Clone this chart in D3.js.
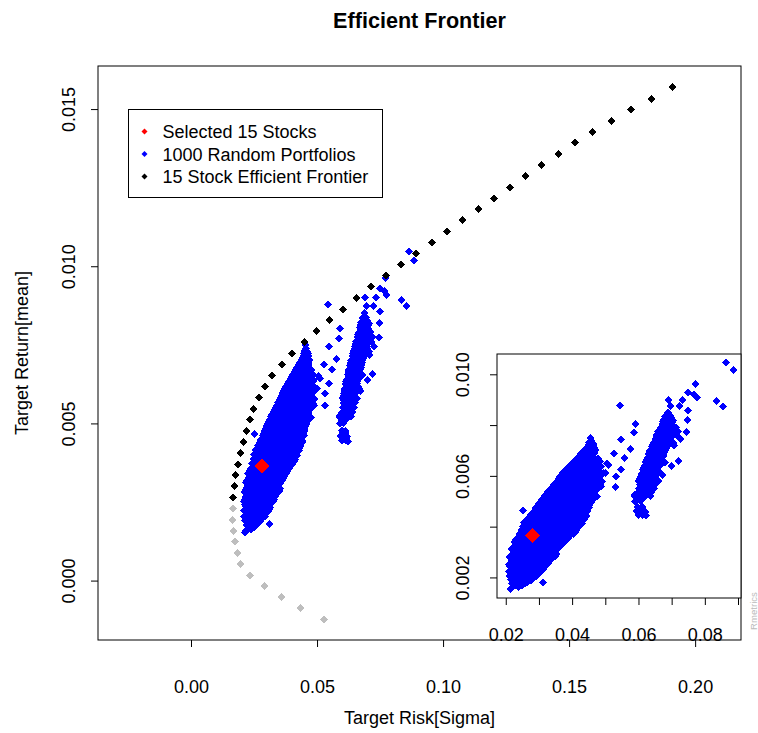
<!DOCTYPE html>
<html lang="en">
<head>
<meta charset="utf-8">
<title>Efficient Frontier</title>
<script src="https://cdn.jsdelivr.net/npm/d3@7"></script>
<style>
  body { margin: 0; background: #fff; }
  text { font-family: "Liberation Sans", Arial, Helvetica, sans-serif; }
</style>
</head>
<body>
<script>
// efficient part of the frontier, [sigma, mean]
var frontier = [
  [0.01678,0.00264],[0.01725,0.00300],[0.01773,0.00335],[0.01864,0.00370],[0.01956,0.00406],
  [0.02075,0.00441],[0.02194,0.00476],[0.02340,0.00511],[0.02471,0.00546],[0.02685,0.00582],
  [0.02923,0.00617],[0.03225,0.00652],[0.03598,0.00687],[0.04018,0.00722],[0.04494,0.00759],
  [0.04986,0.00794],[0.05502,0.00829],[0.06029,0.00863],[0.06573,0.00899],[0.07152,0.00935],
  [0.07735,0.00970],[0.08330,0.01005],[0.08937,0.01040],[0.09548,0.01076],[0.10155,0.01110],
  [0.10777,0.01146],[0.11412,0.01181],[0.12031,0.01216],[0.12653,0.01251],[0.13288,0.01287],
  [0.13923,0.01322],[0.14569,0.01357],[0.15244,0.01393],[0.15934,0.01428],[0.16688,0.01463],
  [0.17453,0.01498],[0.18274,0.01533],[0.19107,0.01569]
];
// lower (inefficient) part, drawn grey
var lowerFrontier = [
  [0.01654,0.00229],[0.01654,0.00193],[0.01694,0.00158],[0.01745,0.00123],[0.01837,0.00088],
  [0.01971,0.00052],[0.02340,0.00017],[0.02923,-0.00018],[0.03582,-0.00053],[0.04351,-0.00088],
  [0.05276,-0.00123]
];
// the selected 15 stock portfolio
var selected = [[0.0281, 0.00364]];
// random portfolios (the dense parts approximated)
var randomPortfolios = [
  [.0216,.00158],[.0238,.00163],
  [.0220,.00176],[.0240,.00173],[.0259,.00178],
  [.0215,.00192],[.0236,.00188],[.0255,.00193],[.0276,.00189],
  [.0211,.00204],[.0231,.00207],[.0252,.00203],[.0272,.00206],[.0292,.00204],
  [.0210,.00222],[.0228,.00219],[.0249,.00221],[.0268,.00218],[.0287,.00222],[.0305,.00220],
  [.0219,.00236],[.0240,.00233],[.0260,.00237],[.0279,.00234],[.0298,.00236],[.0314,.00233],
  [.0209,.00251],[.0229,.00248],[.0250,.00252],[.0270,.00249],[.0290,.00251],[.0309,.00248],[.0324,.00252],
  [.0218,.00266],[.0238,.00263],[.0259,.00267],[.0280,.00264],[.0300,.00266],[.0320,.00263],[.0333,.00267],
  [.0212,.00281],[.0232,.00278],[.0251,.00282],[.0271,.00279],[.0291,.00281],[.0311,.00278],[.0330,.00282],[.0343,.00279],
  [.0222,.00296],[.0242,.00293],[.0262,.00297],[.0282,.00294],[.0302,.00296],[.0322,.00293],[.0341,.00297],[.0353,.00294],
  [.0218,.00311],[.0236,.00308],[.0256,.00312],[.0276,.00309],[.0296,.00311],[.0316,.00308],[.0336,.00312],[.0355,.00309],
  [.0227,.00326],[.0247,.00323],[.0267,.00327],[.0287,.00324],[.0307,.00326],[.0327,.00323],[.0347,.00327],[.0366,.00324],
  [.0226,.00341],[.0244,.00338],[.0264,.00342],[.0284,.00339],[.0304,.00341],[.0324,.00338],[.0344,.00342],[.0363,.00339],[.0378,.00341],
  [.0236,.00356],[.0255,.00353],[.0275,.00357],[.0295,.00354],[.0315,.00356],[.0335,.00353],[.0355,.00357],[.0374,.00354],[.0390,.00356],
  [.0242,.00371],[.0265,.00368],[.0285,.00372],[.0305,.00369],[.0325,.00371],[.0345,.00368],[.0365,.00372],[.0385,.00369],[.0403,.00371],
  [.0248,.00386],[.0274,.00383],[.0294,.00387],[.0314,.00384],[.0334,.00386],[.0354,.00383],[.0374,.00387],[.0394,.00384],[.0412,.00386],
  [.0251,.00401],[.0266,.00398],[.0286,.00402],[.0306,.00399],[.0326,.00401],[.0346,.00398],[.0366,.00402],[.0386,.00399],[.0404,.00401],[.0420,.00398],
  [.0256,.00416],[.0276,.00413],[.0296,.00417],[.0316,.00414],[.0336,.00416],[.0356,.00413],[.0376,.00417],[.0396,.00414],[.0415,.00416],[.0429,.00413],
  [.0266,.00431],[.0286,.00428],[.0306,.00432],[.0326,.00429],[.0346,.00431],[.0366,.00428],[.0386,.00432],[.0406,.00429],[.0424,.00431],[.0436,.00428],
  [.0276,.00446],[.0296,.00443],[.0316,.00447],[.0336,.00444],[.0356,.00446],[.0376,.00443],[.0396,.00447],[.0416,.00444],[.0432,.00446],[.0443,.00443],
  [.0285,.00461],[.0305,.00458],[.0325,.00462],[.0345,.00459],[.0365,.00461],[.0385,.00458],[.0405,.00462],[.0425,.00459],[.0447,.00461],
  [.0292,.00476],[.0313,.00473],[.0333,.00477],[.0353,.00474],[.0373,.00476],[.0393,.00473],[.0413,.00477],[.0433,.00474],[.0451,.00476],
  [.0300,.00491],[.0321,.00488],[.0341,.00492],[.0361,.00489],[.0381,.00491],[.0401,.00488],[.0421,.00492],[.0441,.00489],[.0455,.00491],
  [.0309,.00506],[.0330,.00503],[.0350,.00507],[.0370,.00504],[.0390,.00506],[.0410,.00503],[.0430,.00507],[.0450,.00504],[.0461,.00506],
  [.0317,.00521],[.0338,.00518],[.0358,.00522],[.0378,.00519],[.0398,.00521],[.0418,.00518],[.0438,.00522],[.0456,.00519],[.0469,.00521],
  [.0326,.00536],[.0347,.00533],[.0367,.00537],[.0387,.00534],[.0407,.00536],[.0427,.00533],[.0447,.00537],[.0466,.00534],
  [.0337,.00551],[.0357,.00548],[.0377,.00552],[.0397,.00549],[.0417,.00551],[.0437,.00548],[.0457,.00552],[.0478,.00549],
  [.0346,.00566],[.0366,.00563],[.0386,.00567],[.0406,.00564],[.0426,.00566],[.0446,.00563],[.0466,.00567],[.0485,.00564],
  [.0356,.00581],[.0376,.00578],[.0396,.00582],[.0416,.00579],[.0436,.00581],[.0456,.00578],[.0476,.00582],[.0490,.00579],
  [.0363,.00596],[.0384,.00593],[.0404,.00597],[.0424,.00594],[.0444,.00596],[.0464,.00593],[.0484,.00597],
  [.0371,.00611],[.0392,.00608],[.0412,.00612],[.0432,.00609],[.0452,.00611],[.0472,.00608],[.0494,.00612],
  [.0382,.00626],[.0402,.00623],[.0422,.00627],[.0442,.00624],[.0462,.00626],[.0480,.00623],
  [.0394,.00641],[.0414,.00638],[.0434,.00642],[.0454,.00639],[.0474,.00641],[.0487,.00638],
  [.0405,.00656],[.0425,.00653],[.0445,.00657],[.0465,.00654],[.0484,.00656],
  [.0416,.00671],[.0436,.00668],[.0456,.00672],[.0478,.00669],
  [.0426,.00686],[.0446,.00683],[.0466,.00687],
  [.0438,.00701],[.0458,.00698],[.0470,.00702],
  [.0447,.00716],[.0466,.00713],
  [.0450,.00731],[.0462,.00728],
  [.0455,.00750],
  // more from the dense core, between the rows above
  [.0229,.00168],[.0249,.00168],
  [.0226,.00183],[.0246,.00183],[.0266,.00183],
  [.0221,.00198],[.0241,.00198],[.0262,.00198],[.0282,.00198],
  [.0220,.00213],[.0240,.00213],[.0260,.00213],[.0280,.00213],[.0297,.00213],
  [.0219,.00228],[.0238,.00228],[.0258,.00228],[.0278,.00228],[.0296,.00228],[.0310,.00228],
  [.0214,.00243],[.0234,.00243],[.0255,.00243],[.0275,.00243],[.0295,.00243],[.0315,.00243],
  [.0214,.00258],[.0234,.00258],[.0254,.00258],[.0274,.00258],[.0294,.00258],[.0314,.00258],[.0329,.00258],
  [.0222,.00273],[.0242,.00273],[.0262,.00273],[.0282,.00273],[.0302,.00273],[.0322,.00273],[.0338,.00273],
  [.0217,.00288],[.0237,.00288],[.0257,.00288],[.0277,.00288],[.0297,.00288],[.0317,.00288],[.0336,.00288],[.0349,.00288],
  [.0227,.00303],[.0247,.00303],[.0267,.00303],[.0287,.00303],[.0307,.00303],[.0327,.00303],[.0346,.00303],
  [.0222,.00318],[.0242,.00318],[.0262,.00318],[.0282,.00318],[.0302,.00318],[.0322,.00318],[.0342,.00318],[.0360,.00318],
  [.0236,.00333],[.0256,.00333],[.0276,.00333],[.0296,.00333],[.0316,.00333],[.0336,.00333],[.0356,.00333],[.0372,.00333],
  [.0231,.00348],[.0250,.00348],[.0270,.00348],[.0290,.00348],[.0310,.00348],[.0330,.00348],[.0350,.00348],[.0370,.00348],[.0384,.00348],
  [.0245,.00363],[.0265,.00363],[.0290,.00363],[.0310,.00363],[.0330,.00363],[.0350,.00363],[.0370,.00363],[.0390,.00363],
  [.0255,.00378],[.0275,.00378],[.0295,.00378],[.0315,.00378],[.0335,.00378],[.0355,.00378],[.0375,.00378],[.0395,.00378],[.0408,.00378],
  [.0258,.00393],[.0278,.00393],[.0298,.00393],[.0318,.00393],[.0338,.00393],[.0358,.00393],[.0378,.00393],[.0398,.00393],[.0415,.00393],
  [.0261,.00408],[.0281,.00408],[.0301,.00408],[.0321,.00408],[.0341,.00408],[.0361,.00408],[.0381,.00408],[.0401,.00408],[.0420,.00408],
  [.0271,.00423],[.0291,.00423],[.0311,.00423],[.0331,.00423],[.0351,.00423],[.0371,.00423],[.0391,.00423],[.0411,.00423],[.0430,.00423],
  [.0271,.00438],[.0291,.00438],[.0311,.00438],[.0331,.00438],[.0351,.00438],[.0371,.00438],[.0391,.00438],[.0411,.00438],[.0428,.00438],[.0440,.00438],
  [.0281,.00453],[.0301,.00453],[.0321,.00453],[.0341,.00453],[.0361,.00453],[.0381,.00453],[.0401,.00453],[.0421,.00453],[.0438,.00453],
  [.0290,.00468],[.0310,.00468],[.0330,.00468],[.0350,.00468],[.0370,.00468],[.0390,.00468],[.0410,.00468],[.0430,.00468],[.0443,.00468],
  [.0297,.00483],[.0317,.00483],[.0337,.00483],[.0357,.00483],[.0377,.00483],[.0397,.00483],[.0417,.00483],[.0437,.00483],[.0450,.00483],
  [.0305,.00498],[.0325,.00498],[.0345,.00498],[.0365,.00498],[.0385,.00498],[.0405,.00498],[.0425,.00498],[.0445,.00498],[.0458,.00498],
  [.0313,.00513],[.0334,.00513],[.0354,.00513],[.0374,.00513],[.0394,.00513],[.0414,.00513],[.0434,.00513],[.0454,.00513],[.0465,.00513],
  [.0322,.00528],[.0343,.00528],[.0363,.00528],[.0383,.00528],[.0403,.00528],[.0423,.00528],[.0443,.00528],[.0460,.00528],
  [.0332,.00543],[.0352,.00543],[.0372,.00543],[.0392,.00543],[.0412,.00543],[.0432,.00543],[.0452,.00543],[.0470,.00543],
  [.0341,.00558],[.0361,.00558],[.0381,.00558],[.0401,.00558],[.0421,.00558],[.0441,.00558],[.0461,.00558],[.0478,.00558],
  [.0351,.00573],[.0371,.00573],[.0391,.00573],[.0411,.00573],[.0431,.00573],[.0451,.00573],[.0471,.00573],
  [.0360,.00588],[.0380,.00588],[.0400,.00588],[.0420,.00588],[.0440,.00588],[.0460,.00588],[.0478,.00588],
  [.0367,.00603],[.0388,.00603],[.0408,.00603],[.0428,.00603],[.0448,.00603],[.0468,.00603],[.0488,.00603],
  [.0377,.00618],[.0397,.00618],[.0417,.00618],[.0437,.00618],[.0457,.00618],[.0476,.00618],
  [.0388,.00633],[.0408,.00633],[.0428,.00633],[.0448,.00633],[.0468,.00633],[.0483,.00633],
  [.0400,.00648],[.0420,.00648],[.0440,.00648],[.0460,.00648],[.0479,.00648],
  [.0411,.00663],[.0431,.00663],[.0451,.00663],[.0471,.00663],
  [.0421,.00678],[.0441,.00678],[.0461,.00678],
  [.0432,.00693],[.0452,.00693],[.0466,.00693],
  [.0442,.00708],[.0462,.00708],
  [.0449,.00722],[.0464,.00722],
  [.0457,.00738],
  // stragglers around the main cloud
  [.0252,.00465],[.0313,.00180],[.0214,.00154],[.0349,.00283],[.0328,.00263],
  [.0505,.00650],[.0500,.00611],[.0488,.00558],[.0476,.00519],[.0510,.00643],
  // second cloud
  [.0600,.00445],[.0612,.00447],[.0622,.00443],
  [.0594,.00460],[.0607,.00462],[.0620,.00458],
  [.0598,.00478],[.0612,.00476],
  [.0590,.00500],[.0606,.00502],
  [.0590,.00520],[.0605,.00522],[.0620,.00518],[.0635,.00521],
  [.0598,.00535],[.0613,.00537],[.0628,.00533],[.0640,.00536],
  [.0602,.00550],[.0617,.00552],[.0632,.00548],[.0647,.00551],
  [.0605,.00565],[.0620,.00567],[.0635,.00563],[.0650,.00566],
  [.0601,.00580],[.0616,.00582],[.0631,.00578],[.0646,.00581],[.0660,.00579],
  [.0606,.00595],[.0621,.00597],[.0636,.00593],[.0651,.00596],
  [.0610,.00610],[.0625,.00612],[.0640,.00608],[.0655,.00611],[.0668,.00609],
  [.0613,.00625],[.0628,.00627],[.0643,.00623],[.0658,.00626],
  [.0618,.00640],[.0633,.00642],[.0648,.00638],[.0663,.00641],
  [.0622,.00655],[.0637,.00657],[.0652,.00653],[.0667,.00656],[.0680,.00654],
  [.0626,.00670],[.0641,.00672],[.0656,.00668],[.0671,.00671],
  [.0630,.00685],[.0645,.00687],[.0660,.00683],[.0675,.00686],
  [.0636,.00700],[.0651,.00702],[.0666,.00698],[.0681,.00701],
  [.0640,.00715],[.0655,.00717],[.0670,.00713],[.0685,.00716],
  [.0645,.00730],[.0660,.00732],[.0675,.00728],[.0690,.00731],[.0705,.00729],
  [.0650,.00745],[.0665,.00747],[.0680,.00743],[.0695,.00746],
  [.0655,.00760],[.0670,.00762],[.0685,.00758],[.0700,.00761],[.0715,.00759],
  [.0660,.00775],[.0675,.00777],[.0690,.00773],[.0705,.00776],[.0720,.00774],
  [.0667,.00790],[.0682,.00792],[.0697,.00788],[.0712,.00791],
  [.0672,.00805],[.0687,.00807],[.0702,.00803],
  [.0675,.00820],[.0690,.00822],[.0705,.00818],
  [.0680,.00835],[.0696,.00837],
  [.0688,.00850],
  // second cloud, filling between rows
  [.0606,.00453],[.0617,.00453],[.0601,.00469],[.0614,.00469],[.0598,.00510],[.0612,.00510],
  [.0597,.00528],[.0612,.00528],[.0627,.00528],
  [.0608,.00543],[.0623,.00543],[.0637,.00543],
  [.0610,.00558],[.0625,.00558],[.0640,.00558],
  [.0608,.00573],[.0623,.00573],[.0638,.00573],[.0652,.00573],
  [.0604,.00588],[.0619,.00588],[.0634,.00588],[.0649,.00588],
  [.0608,.00603],[.0623,.00603],[.0638,.00603],[.0653,.00603],
  [.0618,.00618],[.0633,.00618],[.0648,.00618],[.0662,.00618],
  [.0616,.00633],[.0631,.00633],[.0646,.00633],[.0660,.00633],
  [.0625,.00648],[.0640,.00648],[.0655,.00648],[.0670,.00648],
  [.0624,.00663],[.0639,.00663],[.0654,.00663],[.0669,.00663],
  [.0633,.00678],[.0648,.00678],[.0663,.00678],[.0676,.00678],
  [.0633,.00693],[.0648,.00693],[.0663,.00693],[.0678,.00693],
  [.0643,.00708],[.0658,.00708],[.0673,.00708],[.0684,.00708],
  [.0643,.00723],[.0658,.00723],[.0673,.00723],[.0688,.00723],
  [.0652,.00738],[.0667,.00738],[.0682,.00738],[.0697,.00738],
  [.0653,.00753],[.0668,.00753],[.0683,.00753],[.0698,.00753],
  [.0662,.00768],[.0677,.00768],[.0692,.00768],[.0707,.00768],
  [.0664,.00783],[.0679,.00783],[.0694,.00783],[.0709,.00783],
  [.0675,.00798],[.0690,.00798],[.0705,.00798],
  [.0674,.00813],[.0689,.00813],[.0703,.00813],
  [.0683,.00828],[.0698,.00828],
  // scattered ones
  [.0864,.01046],[.0885,.01017],[.0772,.00963],[.0835,.00894],[.0855,.00874],
  [.0544,.00878],[.0750,.00928],[.0768,.00920],[.0776,.00908],[.0733,.00900],
  [.0690,.00900],[.0697,.00874],[.0724,.00874],[.0750,.00857],[.0748,.00819],
  [.0591,.00803],[.0586,.00770],[.0548,.00744],[.0576,.00705],[.0558,.00672],
  [.0527,.00688],[.0548,.00626],[.0532,.00596],[.0530,.00557],[.0746,.00773],
  [.0727,.00744],[.0707,.00718],[.0720,.00658],[.0700,.00638],[.0672,.00603],
  [.0588,.00523],[.0616,.00455]
];

var legendLabels = ["Selected 15 Stocks", "1000 Random Portfolios", "15 Stock Efficient Frontier"];
var legendColors = ["#ff0000", "#0000ff", "#000000"];

var mainXTicks = [0, 0.05, 0.10, 0.15, 0.20];
var mainYTicks = [0, 0.005, 0.010, 0.015];
var insetXTicks = [0.02, 0.03, 0.04, 0.05, 0.06, 0.07, 0.08, 0.09];
var insetXLabels = [0.02, 0.04, 0.06, 0.08];
var insetYTicks = [0.002, 0.004, 0.006, 0.008, 0.010];
var insetYLabels = [0.002, 0.006, 0.010];

var svg = d3.select("body").append("svg")
  .attr("width", 758)
  .attr("height", 733)
  .style("display", "block");

svg.append("rect").attr("width", 758).attr("height", 733).attr("fill", "#fff");

// diamond like R's pch 18
function diamond(a) {
  return "M0," + (-a) + "L" + a + ",0L0," + a + "L" + (-a) + ",0Z";
}

// ---- main plot ----
var box = {left: 98, right: 741, top: 66, bottom: 640};
var x = d3.scaleLinear().domain([-0.0369, 0.2182]).range([box.left, box.right]);
var y = d3.scaleLinear().domain([-0.00189, 0.01637]).range([box.bottom, box.top]);

function drawPoints(g, data, xs, ys, color, a) {
  g.selectAll(null)
    .data(data)
    .enter()
    .append("path")
    .attr("d", diamond(a))
    .attr("transform", function(d) { return "translate(" + xs(d[0]) + "," + ys(d[1]) + ")"; })
    .attr("fill", color)
    .attr("shape-rendering", "crispEdges");
}

var main = svg.append("g");
drawPoints(main, lowerFrontier, x, y, "#bebebe", 4);
drawPoints(main, randomPortfolios, x, y, "#0000ff", 4);
drawPoints(main, frontier, x, y, "#000000", 4);
drawPoints(main, selected, x, y, "#ff0000", 7.5);

var xAxis = d3.axisBottom(x).tickValues(mainXTicks).tickFormat(d3.format(".2f"))
  .tickSize(7).tickPadding(33);
var gx = svg.append("g").attr("transform", "translate(0," + box.bottom + ")").call(xAxis);
gx.select(".domain").remove();
gx.selectAll("text").attr("font-size", 18).attr("font-family", null).attr("fill", "#000");

var yAxis = d3.axisLeft(y).tickValues(mainYTicks).tickFormat(d3.format(".3f")).tickSize(7);
var gy = svg.append("g").attr("transform", "translate(" + box.left + ",0)").call(yAxis);
gy.select(".domain").remove();
gy.selectAll("text")
  .attr("font-size", 18).attr("font-family", null).attr("fill", "#000")
  .attr("text-anchor", "middle").attr("transform", "rotate(-90)")
  .attr("x", 0).attr("y", -23).attr("dy", null);

svg.append("rect")
  .attr("x", box.left).attr("y", box.top)
  .attr("width", box.right - box.left).attr("height", box.bottom - box.top)
  .attr("fill", "none").attr("stroke", "#000").attr("stroke-width", 1);

// titles
svg.append("text").attr("x", 419.5).attr("y", 28).attr("text-anchor", "middle")
  .attr("font-size", 21.6).attr("font-weight", "bold").text("Efficient Frontier");
svg.append("text").attr("x", 419.5).attr("y", 724).attr("text-anchor", "middle")
  .attr("font-size", 18).text("Target Risk[Sigma]");
svg.append("text").attr("transform", "translate(28,353) rotate(-90)").attr("text-anchor", "middle")
  .attr("font-size", 18).text("Target Return[mean]");

// legend
var legend = svg.append("g");
legend.append("rect").attr("x", 128.5).attr("y", 109.5).attr("width", 254).attr("height", 88)
  .attr("fill", "#fff").attr("stroke", "#000");
legendLabels.forEach(function(label, i) {
  var ly = 131.5 + i * 22.5;
  legend.append("path").attr("d", diamond(3)).attr("transform", "translate(144.5," + ly + ")")
    .attr("fill", legendColors[i]);
  legend.append("text").attr("x", 162.5).attr("y", ly + 6.5).attr("font-size", 18).text(label);
});

// ---- inset: zoom on the random portfolios ----
var ibox = {left: 497, right: 741, top: 354, bottom: 598};
var xi = d3.scaleLinear().domain([0.01736, 0.0909]).range([ibox.left, ibox.right]);
var yi = d3.scaleLinear().domain([0.00119, 0.0108]).range([ibox.bottom, ibox.top]);

svg.append("rect")
  .attr("x", ibox.left).attr("y", ibox.top)
  .attr("width", ibox.right - ibox.left).attr("height", ibox.bottom - ibox.top)
  .attr("fill", "#fff");

svg.append("clipPath").attr("id", "insetClip").append("rect")
  .attr("x", ibox.left).attr("y", ibox.top)
  .attr("width", ibox.right - ibox.left).attr("height", ibox.bottom - ibox.top);

var inset = svg.append("g").attr("clip-path", "url(#insetClip)");
drawPoints(inset, randomPortfolios, xi, yi, "#0000ff", 4);
drawPoints(inset, selected, xi, yi, "#ff0000", 7.5);

var xiAxis = d3.axisBottom(xi).tickValues(insetXTicks)
  .tickFormat(function(d) { return insetXLabels.some(function(v) { return Math.abs(v - d) < 1e-9; }) ? d3.format(".2f")(d) : ""; })
  .tickSize(7).tickPadding(23);
var gxi = svg.append("g").attr("transform", "translate(0," + ibox.bottom + ")").call(xiAxis);
gxi.select(".domain").remove();
gxi.selectAll("text").attr("font-size", 18).attr("font-family", null).attr("fill", "#000");

var yiAxis = d3.axisLeft(yi).tickValues(insetYTicks)
  .tickFormat(function(d) { return insetYLabels.some(function(v) { return Math.abs(v - d) < 1e-9; }) ? d3.format(".3f")(d) : ""; })
  .tickSize(7);
var gyi = svg.append("g").attr("transform", "translate(" + ibox.left + ",0)").call(yiAxis);
gyi.select(".domain").remove();
gyi.selectAll("text")
  .attr("font-size", 18).attr("font-family", null).attr("fill", "#000")
  .attr("text-anchor", "middle").attr("transform", "rotate(-90)")
  .attr("x", 0).attr("y", -28).attr("dy", null);

svg.append("rect")
  .attr("x", ibox.left).attr("y", ibox.top)
  .attr("width", ibox.right - ibox.left).attr("height", ibox.bottom - ibox.top)
  .attr("fill", "none").attr("stroke", "#000").attr("stroke-width", 1);

// small grey tag in the right margin
svg.append("text").attr("transform", "translate(756.5,611) rotate(-90)").attr("text-anchor", "middle")
  .attr("font-size", 9.6).attr("fill", "#bbbbbb").text("Rmetrics");
</script>
</body>
</html>
